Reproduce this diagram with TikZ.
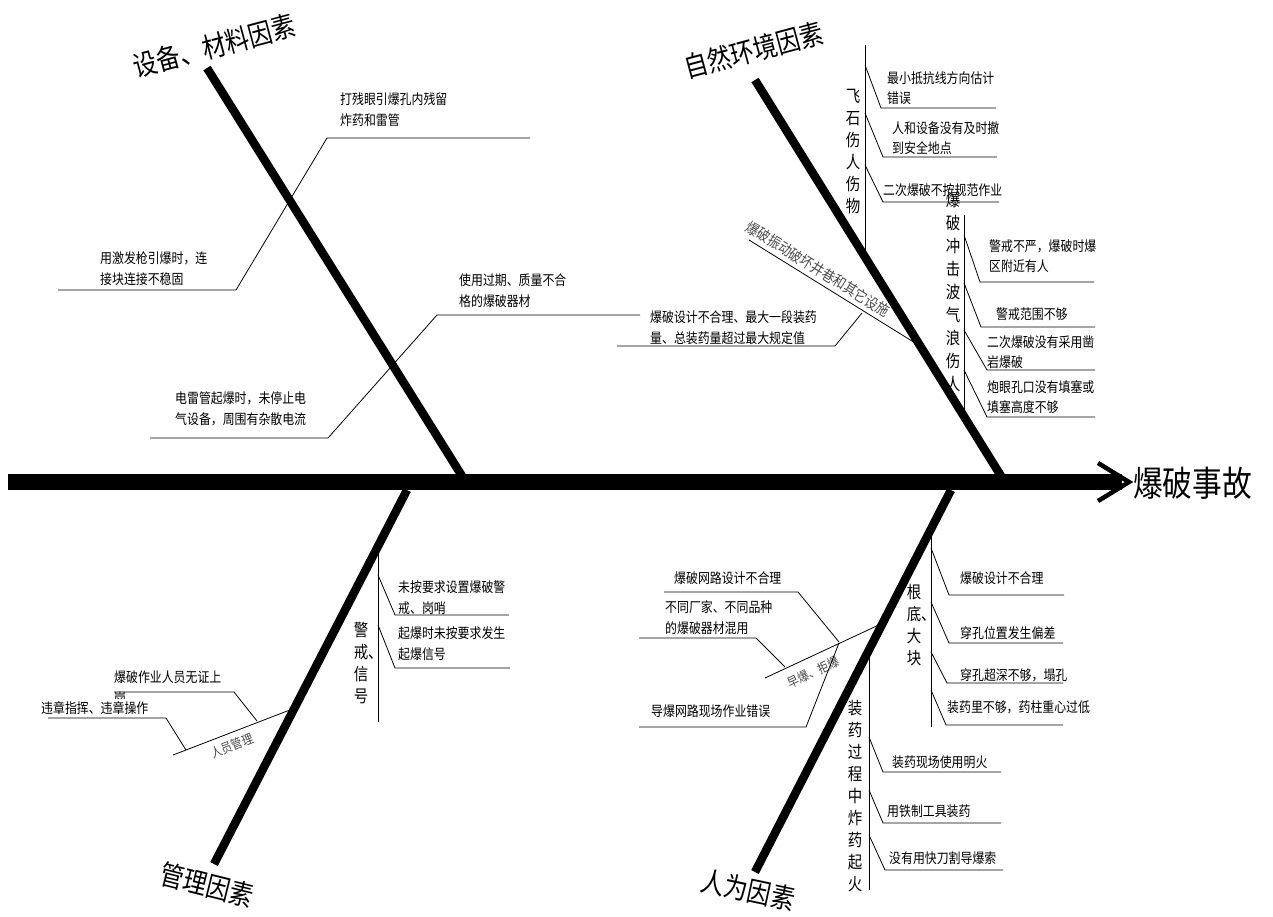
\documentclass[tikz,border=0pt]{standalone}
\usepackage{fontspec}
\setmainfont{Noto Sans CJK SC}[FakeStretch=0.85]
\begin{document}
\begin{tikzpicture}[x=1pt,y=-1pt,
  bone/.style={line width=8.5pt},
  twig/.style={line width=0.8pt},
  cause/.style={anchor=north west,inner sep=0pt,align=left,yshift=1pt,font=\fontsize{14}{21}\selectfont},
  vtext/.style={anchor=north,inner sep=0pt,align=center,font=\fontsize{17}{22}\selectfont},
  bigtitle/.style={inner sep=0pt,font=\fontsize{28}{28}\selectfont},
  smalltag/.style={inner sep=0pt,font=\fontsize{13}{13}\selectfont,text=black!70}]
\useasboundingbox (0,0) rectangle (1273,916);
\coordinate (tail) at (8,482);
\coordinate (tip) at (1122,482);
\draw[line width=16pt] (tail) -- (tip);
\draw[line width=4.5pt,miter limit=20] (1098,463) -- (1129,482) -- (1098,501);
\node[bigtitle,anchor=west,font=\fontsize{35}{35}\selectfont] (effect) at (1133,483) {爆破事故};
\draw[bone] (207,68) -- (462,476);
\draw[bone] (755,80) -- (1001,476);
\draw[bone] (407,490) -- (214,864);
\draw[bone] (951,490) -- (755,872);
\node[bigtitle,rotate=15] (equip) at (214,46) {设备、材料因素};
\node[bigtitle,rotate=15] (nature) at (754,50) {自然环境因素};
\node[bigtitle,rotate=-14] (manage) at (207,885) {管理因素};
\node[bigtitle,rotate=-12] (human) at (748,890) {人为因素};
\node[cause] (a1) at (340,94) {打残眼引爆孔内残留\\炸药和雷管};
\draw[twig] (530,138) -- (327,138) -- (236,290) -- (58,290);
\node[cause] (a2) at (100,252) {用激发枪引爆时，连\\接块连接不稳固};
\node[cause] (a3) at (459,274) {使用过期、质量不合\\格的爆破器材};
\draw[twig] (640,315) -- (437,315) -- (328,438) -- (150,438);
\node[cause] (a4) at (175,392) {电雷管起爆时，未停止电\\气设备，周围有杂散电流};
\node[cause] (b1) at (650,311) {爆破设计不合理、最大一段装药\\量、总装药量超过最大规定值};
\draw[twig] (617,346) -- (835,346) -- (862,313);
\draw[twig] (749,240) -- (920,346);
\node[smalltag,rotate=-31.8,font=\fontsize{15}{15}\selectfont] (b2) at (818,269) {爆破振动破坏井巷和其它设施};
\draw[twig] (865,45) -- (865,257);
\node[vtext] (b3) at (853,89) {飞\\石\\伤\\人\\伤\\物};
\draw[twig] (865,65) -- (881,108) -- (996,108);
\node[cause,font=\fontsize{14}{20}\selectfont] (b4) at (887,72) {最小抵抗线方向估计\\错误};
\draw[twig] (865,113) -- (883,157) -- (997,157);
\node[cause,font=\fontsize{14}{20}\selectfont] (b5) at (892,122) {人和设备没有及时撤\\到安全地点};
\draw[twig] (865,165) -- (883,202) -- (999,202);
\node[cause] (b6) at (883,184) {二次爆破不按规范作业};
\draw[twig] (964,215) -- (964,416);
\node[vtext,font=\fontsize{17}{23}\selectfont] (b7) at (953,192) {爆\\破\\冲\\击\\波\\气\\浪\\伤\\人};
\draw[twig] (964,235) -- (980,282) -- (1094,282);
\node[cause,font=\fontsize{14}{20}\selectfont] (b8) at (989,241) {警戒不严，爆破时爆\\区附近有人};
\draw[twig] (964,283) -- (981,327) -- (1095,327);
\node[cause] (b9) at (996,309) {警戒范围不够};
\draw[twig] (964,330) -- (987,370) -- (1095,370);
\node[cause,font=\fontsize{14}{20}\selectfont] (b10) at (987,337) {二次爆破没有采用凿\\岩爆破};
\draw[twig] (964,370) -- (987,417) -- (1095,417);
\node[cause,font=\fontsize{14}{20}\selectfont] (b11) at (987,381) {炮眼孔口没有填塞或\\填塞高度不够};
\draw[twig] (378,546) -- (378,722);
\node[vtext] (c1) at (361,622) {警\\戒\rlap{、}\\信\\号};
\draw[twig] (378,575) -- (395,615) -- (509,615);
\node[cause] (c2) at (398,581) {未按要求设置爆破警\\戒、岗哨};
\draw[twig] (378,625) -- (395,668) -- (510,668);
\node[cause] (c3) at (398,627) {起爆时未按要求发生\\起爆信号};
\draw[twig] (173,755) -- (295,708);
\node[smalltag,rotate=22] (c4) at (232,746) {人员管理};
\draw[twig] (114,692) -- (234,692) -- (257,721);
\node[cause] (c5) at (114,672) {爆破作业人员无证上};
\begin{scope}
\clip (105,686) rectangle (135,698);
\node[cause] (c5b) at (114,693) {岗};
\end{scope}
\draw[twig] (48,718) -- (166,718) -- (186,750);
\node[cause] (c6) at (41,702) {违章指挥、违章操作};
\draw[twig] (931,529) -- (931,727);
\node[vtext] (d1) at (914,584) {根\\底\rlap{、}\\大\\块};
\draw[twig] (931,548) -- (949,595) -- (1064,595);
\node[cause] (d2) at (960,572) {爆破设计不合理};
\draw[twig] (931,602) -- (949,643) -- (1063,643);
\node[cause] (d3) at (960,627) {穿孔位置发生偏差};
\draw[twig] (931,652) -- (947,683) -- (1063,683);
\node[cause] (d4) at (960,669) {穿孔超深不够，塌孔};
\draw[twig] (931,690) -- (946,725) -- (1063,725);
\node[cause] (d5) at (947,702) {装药里不够，药柱重心过低};
\draw[twig] (869,650) -- (869,890);
\node[vtext] (d6) at (855,700) {装\\药\\过\\程\\中\\炸\\药\\起\\火};
\draw[twig] (869,737) -- (883,772) -- (1001,772);
\node[cause] (d7) at (892,756) {装药现场使用明火};
\draw[twig] (869,790) -- (883,823) -- (1001,823);
\node[cause] (d8) at (887,806) {用铁制工具装药};
\draw[twig] (869,835) -- (885,870) -- (1003,870);
\node[cause] (d9) at (889,852) {没有用快刀割导爆索};
\draw[twig] (765,678) -- (883,623);
\node[smalltag,rotate=25] (d10) at (813,672) {早爆、拒爆};
\draw[twig] (664,592) -- (798,592) -- (839,642);
\node[cause] (d11) at (674,572) {爆破网路设计不合理};
\draw[twig] (639,638) -- (756,638) -- (785,667);
\node[cause] (d12) at (665,601) {不同厂家、不同品种\\的爆破器材混用};
\draw[twig] (639,727) -- (806,727) -- (839,643);
\node[cause] (d13) at (651,706) {导爆网路现场作业错误};
\end{tikzpicture}
\end{document}
